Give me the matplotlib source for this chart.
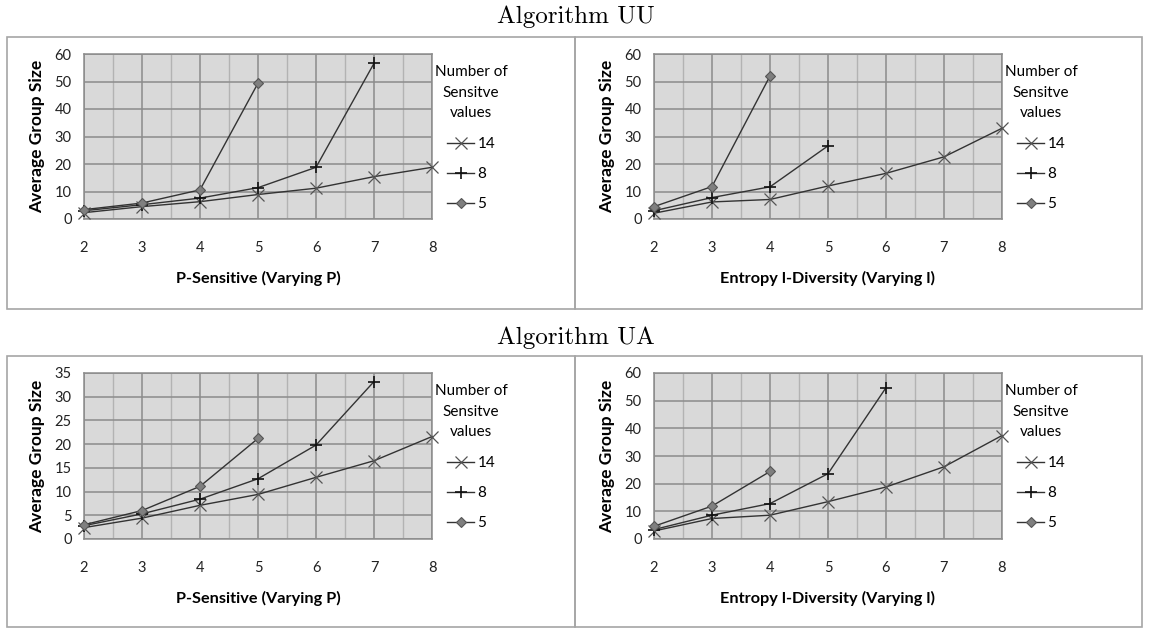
import matplotlib
matplotlib.use('Agg')
import matplotlib.pyplot as plt
from matplotlib.patches import Rectangle
from matplotlib.ticker import MultipleLocator

plt.rcParams['font.family'] = ['Lato', 'DejaVu Sans']

# x values (P or l)
x_vals = [2, 3, 4, 5, 6, 7, 8]
series_names = ['14', '8', '5']

# Algorithm UU, P-Sensitive
uu_p_14 = [2.3, 4.5, 6.3, 8.9, 11.2, 15.4, 18.8]
uu_p_8 = [3.0, 5.2, 7.6, 11.4, 18.8, 56.6]
uu_p_5 = [3.4, 5.8, 10.6, 49.4]

# Algorithm UU, Entropy l-Diversity
uu_l_14 = [2.1, 6.2, 7.1, 12.0, 16.6, 22.6, 33.0]
uu_l_8 = [3.0, 7.8, 11.7, 26.6]
uu_l_5 = [4.5, 11.8, 52.0]

# Algorithm UA, P-Sensitive
ua_p_14 = [2.4, 4.4, 7.1, 9.4, 13.0, 16.5, 21.6]
ua_p_8 = [2.8, 5.3, 8.4, 12.7, 19.8, 33.2]
ua_p_5 = [3.0, 6.0, 11.1, 21.2]

# Algorithm UA, Entropy l-Diversity
ua_l_14 = [2.9, 7.4, 8.6, 13.5, 18.8, 26.1, 37.4]
ua_l_8 = [3.4, 8.6, 12.8, 23.6, 54.7]
ua_l_5 = [4.6, 11.9, 24.4]

W, H = 1151, 628
fig = plt.figure(figsize=(W / 100, H / 100), dpi=100, facecolor='white')


def px_axes(left, top, right, bottom):
    return fig.add_axes([left / W, 1 - bottom / H, (right - left) / W, (bottom - top) / H])


def frame(left, top, right, bottom):
    fig.patches.append(Rectangle((left / W, 1 - bottom / H), (right - left) / W, (bottom - top) / H,
                                 transform=fig.transFigure, fill=False, edgecolor='#a6a6a6',
                                 linewidth=1.2, zorder=0))


def panel(ax, s14, s8, s5, ymax, ystep, xlabel):
    ax.set_facecolor('#d9d9d9')
    line_kw = dict(color='#333333', linewidth=1.0, zorder=3, clip_on=False)
    ax.plot(x_vals[:len(s14)], s14, marker='x', markersize=8, markeredgewidth=0.9,
            markeredgecolor='#555555', label=series_names[0], **line_kw)
    ax.plot(x_vals[:len(s8)], s8, marker='+', markersize=9, markeredgewidth=1.2,
            markeredgecolor='#111111', label=series_names[1], **line_kw)
    ax.plot(x_vals[:len(s5)], s5, marker='D', markersize=5.5, markerfacecolor='#7f7f7f',
            markeredgecolor='#555555', markeredgewidth=0.8, label=series_names[2], **line_kw)
    ax.set_xlim(2, 8)
    ax.set_ylim(0, ymax)
    ax.xaxis.set_major_locator(MultipleLocator(1))
    ax.xaxis.set_minor_locator(MultipleLocator(0.5))
    ax.yaxis.set_major_locator(MultipleLocator(ystep))
    ax.grid(True, which='major', color='#8c8c8c', linewidth=1.1, zorder=1)
    ax.grid(True, which='minor', axis='x', color='#b3b3b3', linewidth=1.0, zorder=1)
    ax.set_axisbelow(True)
    ax.tick_params(which='both', length=0, labelsize=10.5, colors='#222222')
    ax.xaxis.set_tick_params(pad=16)
    ax.yaxis.set_tick_params(pad=9)
    for sp in ax.spines.values():
        sp.set_color('#8c8c8c')
        sp.set_linewidth(1.1)
    ax.set_ylabel('Average Group Size', fontsize=12.5, fontweight='bold', labelpad=7)
    ax.set_xlabel(xlabel, fontsize=11.7, fontweight='bold', labelpad=11)
    leg = ax.legend(title='Number of\nSensitve\nvalues', loc='upper left',
                    bbox_to_anchor=(0.99, 0.97), frameon=False, fontsize=11,
                    title_fontsize=11, handlelength=1.8, handletextpad=0.2,
                    labelspacing=1.05, borderaxespad=0, alignment='center')
    leg.get_title().set_multialignment('center')
    leg.get_title().set_linespacing(1.6)
    leg._legend_box.sep = 12


# panel frames
frame(7, 37, 575, 309)
frame(575, 37, 1142, 309)
frame(7, 356, 575, 627)
frame(575, 356, 1142, 627)

ax1 = px_axes(84, 54, 432, 219)
panel(ax1, uu_p_14, uu_p_8, uu_p_5, 60, 10, 'P-Sensitive (Varying P)')
ax2 = px_axes(654, 54, 1002, 219)
panel(ax2, uu_l_14, uu_l_8, uu_l_5, 60, 10, 'Entropy l-Diversity (Varying l)')
ax3 = px_axes(84, 373, 432, 539)
panel(ax3, ua_p_14, ua_p_8, ua_p_5, 35, 5, 'P-Sensitive (Varying P)')
ax4 = px_axes(654, 373, 1002, 539)
panel(ax4, ua_l_14, ua_l_8, ua_l_5, 60, 10, 'Entropy l-Diversity (Varying l)')

fig.text(0.5, 1 - 17 / H, 'Algorithm UU', fontname='cmr10', fontsize=18, ha='center', va='center')
fig.text(0.5, 1 - 338 / H, 'Algorithm UA', fontname='cmr10', fontsize=18, ha='center', va='center')

fig.savefig('out.png', dpi=100, facecolor='white')
